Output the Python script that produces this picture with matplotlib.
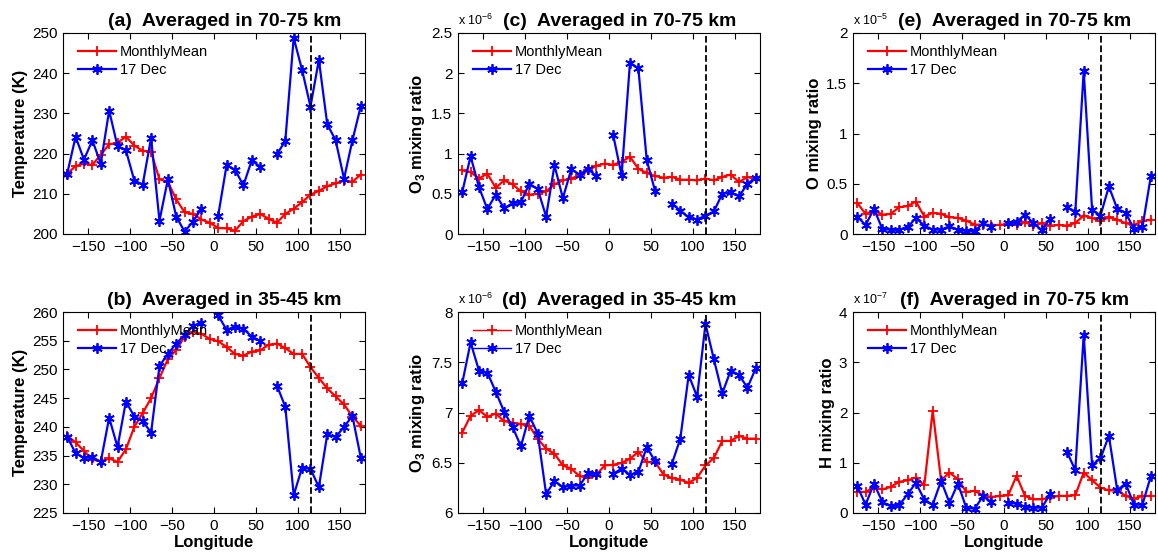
import matplotlib
matplotlib.use("Agg")
import matplotlib.pyplot as plt
import numpy as np
from matplotlib.ticker import FuncFormatter

plt.rcParams['font.family'] = ['Liberation Sans', 'DejaVu Sans']
plt.rcParams['mathtext.fontset'] = 'custom'
plt.rcParams['mathtext.rm'] = 'Liberation Sans'
plt.rcParams['mathtext.bf'] = 'Liberation Sans:bold'

lon = np.arange(-175, 180, 10)
nan = np.nan

# (a) temperature, 70-75 km
temp_hi_mean = [215.0, 216.9, 217.5, 217.2, 219.7, 222.3, 222.7, 224.2, 222.0, 220.7,
                220.4, 213.6, 213.0, 208.6, 205.4, 205.0, 203.6, 202.8, 201.5, 201.4,
                200.8, 203.2, 204.3, 205.0, 203.8, 202.8, 205.0, 206.3, 207.9, 209.8,
                210.7, 211.9, 212.6, 213.3, 213.0, 214.8]
temp_hi_dec17 = [215.0, 224.2, 218.5, 223.3, 217.5, 230.7, 221.8, 220.8, 213.3, 212.3,
                 223.9, 203.3, 213.6, 204.3, 200.6, 203.1, 206.3, nan, 204.6, 217.1,
                 216.0, 212.1, 218.3, 216.7, nan, 219.8, 223.2, 248.8, 240.8, 231.7,
                 243.3, 227.3, 223.3, 213.75, 223.3, 231.8]

# (b) temperature, 35-45 km
temp_lo_mean = [238.45, 237.3, 235.8, 234.3, 234.0, 234.5, 233.9, 236.1, 240.0, 242.4,
                245.0, 248.5, 251.8, 253.4, 255.7, 256.5, 256.2, 255.3, 254.9, 253.9,
                252.7, 252.4, 253.1, 253.3, 254.3, 254.5, 253.7, 252.7, 252.7, 250.4,
                248.5, 246.7, 245.3, 243.9, 241.8, 240.2]
temp_lo_dec17 = [238.3, 235.4, 234.6, 234.7, 233.9, 241.6, 236.5, 244.4, 241.8, 241.0,
                 239.0, 250.6, 252.7, 254.5, 256.0, 257.6, 258.1, nan, 259.4, 256.9,
                 257.4, 257.1, 255.7, 255.0, nan, 247.2, 243.5, 228.1, 232.9, 232.7,
                 229.5, 238.7, 238.2, 240.0, 241.9, 234.6]

# (c) O3, 70-75 km (x 1e-6)
o3_hi_mean = [0.79, 0.77, 0.69, 0.75, 0.575, 0.667, 0.617, 0.53, 0.49, 0.5,
              0.53, 0.617, 0.667, 0.69, 0.73, 0.79, 0.85, 0.875, 0.86, 0.9,
              0.96, 0.81, 0.76, 0.72, 0.70, 0.71, 0.675, 0.675, 0.667, 0.69,
              0.667, 0.71, 0.74, 0.646, 0.71, 0.68]
o3_hi_dec17 = [0.52, 0.967, 0.583, 0.31, 0.49, 0.32, 0.383, 0.396, 0.625, 0.56,
               0.217, 0.854, 0.446, 0.804, 0.74, 0.81, 0.717, nan, 1.23, 0.73,
               2.13, 2.06, 0.917, 0.533, nan, 0.375, 0.29, 0.208, 0.18, 0.23,
               0.28, 0.5, 0.52, 0.467, 0.625, 0.70]

# (d) O3, 35-45 km (x 1e-6)
o3_lo_mean = [6.8, 6.967, 7.023, 6.957, 6.99, 6.913, 6.9, 6.883, 6.867, 6.74,
              6.64, 6.59, 6.473, 6.44, 6.367, 6.347, 6.383, 6.473, 6.48, 6.497,
              6.54, 6.607, 6.507, 6.507, 6.383, 6.347, 6.333, 6.3, 6.35, 6.473,
              6.547, 6.717, 6.717, 6.767, 6.74, 6.74]
o3_lo_dec17 = [7.29, 7.697, 7.417, 7.397, 7.207, 7.007, 6.857, 6.663, 6.967, 6.79,
               6.19, 6.317, 6.257, 6.273, 6.273, 6.397, 6.39, nan, 6.39, 6.44,
               6.38, 6.407, 6.657, 6.513, nan, 6.49, 6.74, 7.373, 7.157, 7.88,
               7.53, 7.19, 7.417, 7.373, 7.247, 7.44]

# (e) O, 70-75 km (x 1e-5)
o_mean = [0.31, 0.2, 0.233, 0.193, 0.2, 0.267, 0.277, 0.323, 0.173, 0.21,
          0.2, 0.167, 0.16, 0.133, 0.093, 0.093, 0.09, 0.09, 0.1, 0.09,
          0.117, 0.083, 0.107, 0.083, 0.09, 0.083, 0.11, 0.183, 0.16, 0.127,
          0.167, 0.143, 0.107, 0.09, 0.127, 0.143]
o_dec17 = [0.173, 0.09, 0.25, 0.05, 0.043, 0.04, 0.067, 0.16, 0.083, 0.043,
           0.043, 0.077, 0.04, 0.033, 0.027, 0.107, 0.067, nan, 0.107, 0.117,
           0.193, 0.107, 0.04, 0.15, nan, 0.267, 0.223, 1.623, 0.243, 0.183,
           0.473, 0.25, 0.21, 0.05, 0.067, 0.573]

# (f) H, 70-75 km (x 1e-7)
h_mean = [0.42, 0.42, 0.506, 0.47, 0.52, 0.62, 0.65, 0.705, 0.55, 2.037,
          0.65, 0.805, 0.672, 0.42, 0.44, 0.353, 0.32, 0.34, 0.353, 0.74,
          0.34, 0.273, 0.273, 0.306, 0.34, 0.34, 0.353, 0.805, 0.652, 0.506,
          0.45, 0.45, 0.34, 0.286, 0.34, 0.34]
h_dec17 = [0.54, 0.166, 0.586, 0.22, 0.133, 0.153, 0.373, 0.6, 0.266, 0.166,
           0.64, 0.206, 0.586, 0.106, 0.086, 0.333, 0.22, nan, 0.2, 0.186,
           0.12, 0.106, 0.106, 0.373, nan, 1.218, 0.852, 3.547, 0.952, 1.085,
           1.537, 0.453, 0.586, 0.166, 0.166, 0.732]

event_lon = 116

panels = [
    # mean, dec17, title, ylabel, ylim, ystep, exponent
    (temp_hi_mean, temp_hi_dec17, '(a)  Averaged in 70-75 km', 'Temperature (K)', (200, 250), 10, None),
    (o3_hi_mean, o3_hi_dec17, '(c)  Averaged in 70-75 km', r'O$_\mathbf{3}$ mixing ratio', (0, 2.5), 0.5, -6),
    (o_mean, o_dec17, '(e)  Averaged in 70-75 km', 'O mixing ratio', (0, 2), 0.5, -5),
    (temp_lo_mean, temp_lo_dec17, '(b)  Averaged in 35-45 km', 'Temperature (K)', (225, 260), 5, None),
    (o3_lo_mean, o3_lo_dec17, '(d)  Averaged in 35-45 km', r'O$_\mathbf{3}$ mixing ratio', (6, 8), 0.5, -6),
    (h_mean, h_dec17, '(f)  Averaged in 70-75 km', 'H mixing ratio', (0, 4), 1, -7),
]

fig = plt.figure(figsize=(11.58, 5.52), dpi=100)
lefts = [63, 458, 853]
asterisk = (6, 2, 0)

for i, (mean, dec, title, ylab, ylim, ystep, expo) in enumerate(panels):
    row, col = divmod(i, 3)
    top_px = 33 if row == 0 else 312
    ax = fig.add_axes([lefts[col] / 1158, 1 - (top_px + 201) / 552, 302 / 1158, 201 / 552])
    ax.plot(lon, mean, '-', color='red', lw=1.6, marker='+', ms=7.5, mew=1.3, label='MonthlyMean')
    ax.plot(lon, dec, '-', color='blue', lw=1.6, marker=asterisk, ms=7.5, mew=1.3, label='17 Dec')
    ax.axvline(event_lon, color='black', ls='--', lw=1.3)
    ax.set_xlim(-180, 180)
    ax.set_ylim(*ylim)
    ax.set_xticks(np.arange(-150, 151, 50))
    ax.set_yticks(np.arange(ylim[0], ylim[1] + ystep / 2, ystep))
    ax.yaxis.set_major_formatter(FuncFormatter(lambda v, p: '%g' % v))
    ax.tick_params(direction='in', top=True, right=True, labelsize=11, length=4, pad=4)
    for s in ax.spines.values():
        s.set_linewidth(0.8)
    ax.set_title(title, fontsize=14, fontweight='bold', pad=5, x=0.535)
    ax.set_ylabel(ylab, fontsize=12, fontweight='bold', labelpad=3)
    if row == 1:
        ax.set_xlabel('Longitude', fontsize=12, fontweight='bold', labelpad=2)
    if expo is not None:
        ax.text(0, 1.025, r'x 10$^{\mathregular{%d}}$' % expo, transform=ax.transAxes,
                fontsize=9, ha='left', va='bottom')
    leg = ax.legend(loc='upper left', frameon=False, fontsize=10.5, handlelength=2.6,
                    handletextpad=0.3, labelspacing=0.3, borderaxespad=0.4,
                    bbox_to_anchor=(0.01, 1.0))
    if i == 4:
        for h in leg.get_lines():
            h.set_linewidth(1.0)

fig.savefig('out.png', dpi=100)
